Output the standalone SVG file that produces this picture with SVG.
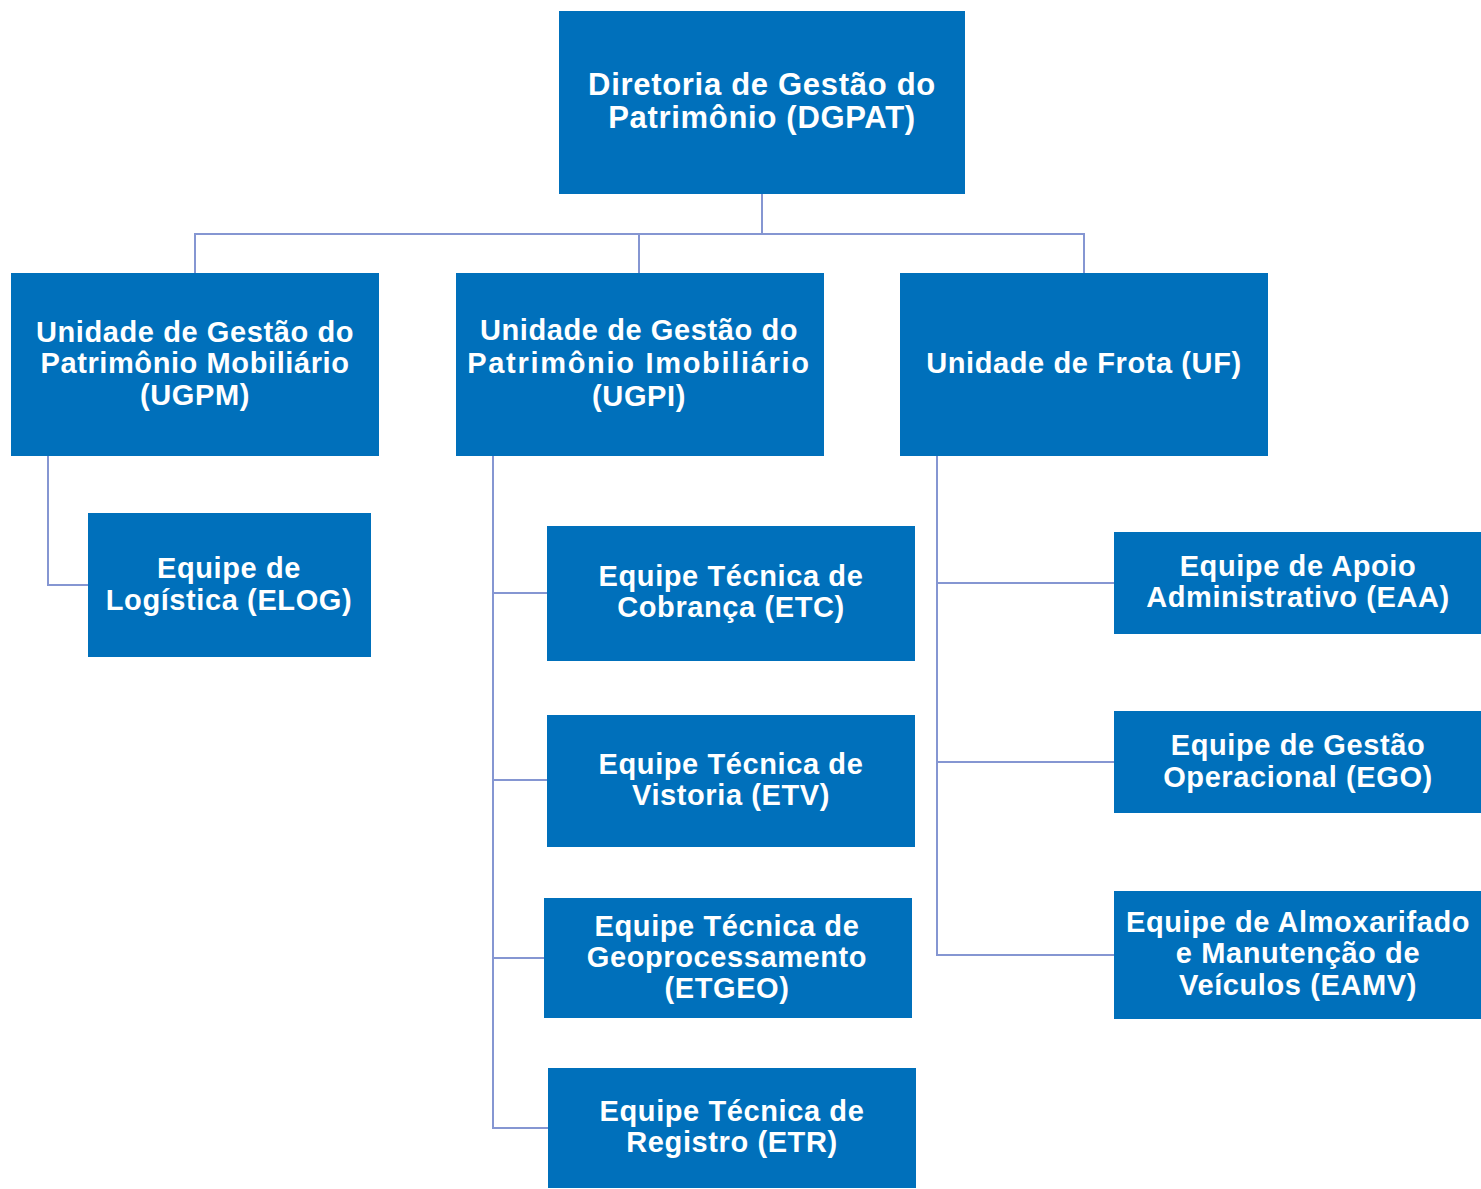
<svg xmlns="http://www.w3.org/2000/svg" width="1481" height="1189" viewBox="0 0 1481 1189">
<style>
.box{fill:#0070BB}
.t{fill:#fff;font-family:"Liberation Sans",Arial,Helvetica,sans-serif;font-weight:bold;font-size:29px;letter-spacing:0.6px;text-anchor:middle}
.big{font-size:31px;letter-spacing:0.7px}
.c{fill:none;stroke:#8596D2;stroke-width:2}
</style>
<rect width="1481" height="1189" fill="#fff"/>
<g id="connectors">
<path class="c" d="M762,194V234M195,273V234H1084V273M639,234V273"/>
<path class="c" d="M48,456V585H88"/>
<path class="c" d="M493,456V1128H548M493,593H547M493,780H547M493,958H544"/>
<path class="c" d="M937,456V955H1114M937,583H1114M937,762H1114"/>
</g>
<g id="dgpat"><rect class="box" x="559" y="11" width="406" height="183"/>
<text class="t big"><tspan x="762" y="95">Diretoria de Gestão do</tspan><tspan x="762" y="128">Patrimônio (DGPAT)</tspan></text></g>
<g id="ugpm"><rect class="box" x="11" y="273" width="368" height="183"/>
<text class="t"><tspan x="195" y="342">Unidade de Gestão do</tspan><tspan x="195" y="373">Patrimônio Mobiliário</tspan><tspan x="195" y="405">(UGPM)</tspan></text></g>
<g id="ugpi"><rect class="box" x="456" y="273" width="368" height="183"/>
<text class="t"><tspan x="639" y="340">Unidade de Gestão do</tspan><tspan x="639" y="373" style="letter-spacing:1.7px">Patrimônio Imobiliário</tspan><tspan x="639" y="406">(UGPI)</tspan></text></g>
<g id="uf"><rect class="box" x="900" y="273" width="368" height="183"/>
<text class="t"><tspan x="1084" y="373">Unidade de Frota (UF)</tspan></text></g>
<g id="elog"><rect class="box" x="88" y="513" width="283" height="144"/>
<text class="t"><tspan x="229" y="578">Equipe de</tspan><tspan x="229" y="610">Logística (ELOG)</tspan></text></g>
<g id="etc"><rect class="box" x="547" y="526" width="368" height="135"/>
<text class="t"><tspan x="731" y="586">Equipe Técnica de</tspan><tspan x="731" y="617">Cobrança (ETC)</tspan></text></g>
<g id="etv"><rect class="box" x="547" y="715" width="368" height="132"/>
<text class="t"><tspan x="731" y="774">Equipe Técnica de</tspan><tspan x="731" y="805">Vistoria (ETV)</tspan></text></g>
<g id="etgeo"><rect class="box" x="544" y="898" width="368" height="120"/>
<text class="t"><tspan x="727" y="936">Equipe Técnica de</tspan><tspan x="727" y="967">Geoprocessamento</tspan><tspan x="727" y="998">(ETGEO)</tspan></text></g>
<g id="etr"><rect class="box" x="548" y="1068" width="368" height="120"/>
<text class="t"><tspan x="732" y="1121">Equipe Técnica de</tspan><tspan x="732" y="1152">Registro (ETR)</tspan></text></g>
<g id="eaa"><rect class="box" x="1114" y="532" width="367" height="102"/>
<text class="t"><tspan x="1298" y="576">Equipe de Apoio</tspan><tspan x="1298" y="607">Administrativo (EAA)</tspan></text></g>
<g id="ego"><rect class="box" x="1114" y="711" width="367" height="102"/>
<text class="t"><tspan x="1298" y="755">Equipe de Gestão</tspan><tspan x="1298" y="787">Operacional (EGO)</tspan></text></g>
<g id="eamv"><rect class="box" x="1114" y="891" width="367" height="128"/>
<text class="t"><tspan x="1298" y="932">Equipe de Almoxarifado</tspan><tspan x="1298" y="963">e Manutenção de</tspan><tspan x="1298" y="995">Veículos (EAMV)</tspan></text></g>
</svg>
